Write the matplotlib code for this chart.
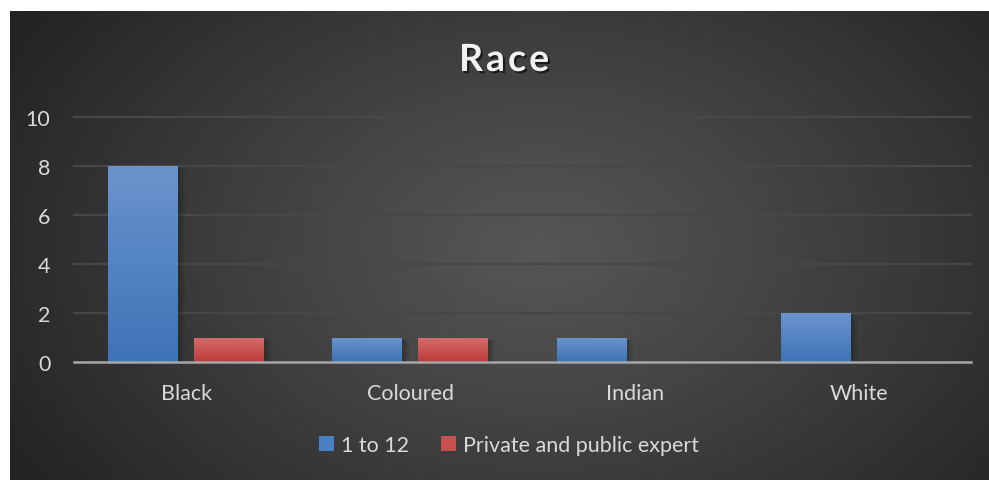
import numpy as np
import matplotlib
matplotlib.use("Agg")
import matplotlib.pyplot as plt
import matplotlib.patheffects as pe
from matplotlib.colors import LinearSegmentedColormap, to_rgb

# Data
categories = ["Black", "Coloured", "Indian", "White"]
series_names = ["1 to 12", "Private and public expert"]
grade_1_to_12 = [8, 1, 1, 2]
private_public_expert = [1, 1, 0, 0]
y_ticks = [0, 2, 4, 6, 8, 10]

W, H = 989, 481
fig = plt.figure(figsize=(W / 100, H / 100), dpi=100)
fig.patch.set_facecolor("white")

FONT = "Lato"
TXT = "#d9d9d9"
FS = 15.5

# Dark panel with a soft radial glow
panel_l, panel_t = 10, 12
bg = fig.add_axes([panel_l / W, 0, (W - panel_l) / W, (H - panel_t) / H])
bg.set_axis_off()
nx, ny = 400, 200
xx, yy = np.meshgrid(np.linspace(panel_l, W, nx), np.linspace(panel_t, H, ny))
d = np.sqrt(((xx - 540) / 620) ** 2 + ((yy - 250) / 420) ** 2)
d = np.clip(d, 0, 1) ** 1.1
c_in = np.array(to_rgb("#565656"))
c_out = np.array(to_rgb("#232323"))
img = c_in[None, None, :] * (1 - d[..., None]) + c_out[None, None, :] * d[..., None]
bg.imshow(img, aspect="auto", extent=[0, 1, 0, 1], origin="upper")
bg.set_xlim(0, 1)
bg.set_ylim(0, 1)

# Plot area
ax_l, ax_r, y0_px, y10_px = 74, 971, 363, 118
ax = fig.add_axes([ax_l / W, (H - y0_px) / H, (ax_r - ax_l) / W, (y0_px - y10_px) / H])
ax.patch.set_alpha(0)
for s in ax.spines.values():
    s.set_visible(False)

for t in y_ticks[1:]:
    ax.axhline(t, color="#474747", lw=1.6, zorder=1, clip_on=False)

x = np.arange(len(categories))
bw = 0.312
off = 0.1917

blue_cmap = LinearSegmentedColormap.from_list("b", ["#6b94cd", "#3d73b7"])
red_cmap = LinearSegmentedColormap.from_list("r", ["#d26d6b", "#bd3b39"])

def gradient_bars(xs, vals, cmap, label, legend_color):
    bars = ax.bar(xs, vals, width=bw, color=legend_color, label=label, zorder=3)
    grad = np.linspace(0, 1, 256).reshape(-1, 1)
    for b in bars:
        h = b.get_height()
        if h <= 0:
            continue
        x0, w = b.get_x(), b.get_width()
        # soft drop shadow
        for k, a in enumerate([0.10, 0.08, 0.06]):
            sh = plt.Rectangle((x0 + 0.004 * (k + 1), -0.12 - 0.03 * k), w + 0.006 * (k + 1), h + 0.06,
                               facecolor="black", alpha=a, lw=0, zorder=2)
            ax.add_patch(sh)
        im = ax.imshow(grad, cmap=cmap, aspect="auto", extent=[x0, x0 + w, 0, h],
                       origin="upper", zorder=4)
        im.set_clip_path(b)
    return bars

gradient_bars(x - off, grade_1_to_12, blue_cmap, series_names[0], "#4a7fc1")
gradient_bars(x + off, private_public_expert, red_cmap, series_names[1], "#c9504e")
ax.set_xlim(-0.5, len(categories) - 0.5)
ax.set_ylim(0, 10)

ax.axhline(0, color="#a6a6a6", lw=1.8, zorder=5, clip_on=False)

ax.set_yticks(y_ticks)
ax.set_yticklabels([str(t) for t in y_ticks])
ax.set_xticks(x)
ax.set_xticklabels(categories)
ax.tick_params(axis="both", length=0, colors=TXT, labelsize=FS)
ax.tick_params(axis="y", pad=17)
ax.tick_params(axis="x", pad=15)
for lab in ax.get_xticklabels() + ax.get_yticklabels():
    lab.set_fontfamily(FONT)

# Title with letter spacing
title = "Race"
title_y = 1 - 61 / H
renderer = fig.canvas.get_renderer()
fs = 27
spacing = 3.0
widths = []
for ch in title:
    t = fig.text(0, 0, ch, fontsize=fs, fontweight="bold", family=FONT)
    widths.append(t.get_window_extent(renderer).width)
    t.remove()
total = sum(widths) + spacing * (len(title) - 1)
cx = 504 - total / 2
for ch, w in zip(title, widths):
    fig.text(cx / W, title_y, ch, fontsize=fs, fontweight="bold", family=FONT,
             color="#f2f2f2", ha="left", va="center",
             path_effects=[pe.withSimplePatchShadow(offset=(1.5, -1.5), shadow_rgbFace="black", alpha=0.6)])
    cx += w + spacing

leg_cx = (509 - ax_l) / (ax_r - ax_l)
leg = ax.legend(loc="center", bbox_to_anchor=(leg_cx, (H - 446 - (H - y0_px)) / (y0_px - y10_px)),
                ncol=2, frameon=False, handlelength=0.7, handleheight=0.7,
                handletextpad=0.3, columnspacing=1.5,
                prop={"family": FONT, "size": FS})
for t in leg.get_texts():
    t.set_color(TXT)

fig.savefig("out.png", dpi=100, facecolor=fig.get_facecolor())
